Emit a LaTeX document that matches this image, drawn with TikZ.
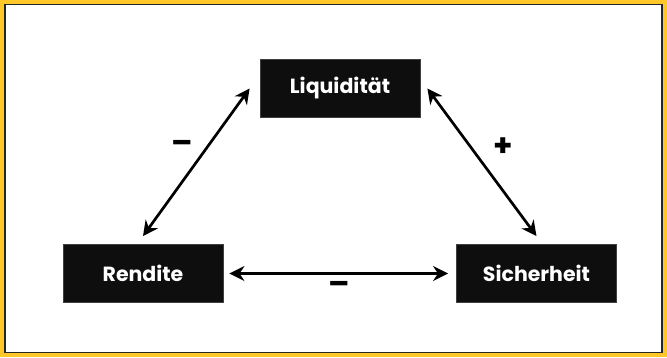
\documentclass[tikz,border=0pt]{standalone}
\usepackage{fontspec}
\setmainfont{Poppins}
\usetikzlibrary{arrows.meta, positioning}
\definecolor{frameyellow}{RGB}{255,200,40}
\definecolor{boxblack}{RGB}{14,14,14}
\begin{document}
\begin{tikzpicture}[x=1pt, y=-1pt,
		keybox/.style={shape=rectangle, fill=boxblack, draw=black!75, line width=0.8pt, minimum width=160pt, minimum height=58pt, text=white, font=\fontsize{20.5}{23}\selectfont\bfseries},
		rel/.style={line width=2.7pt, {Stealth[length=15pt, width=15pt]}-{Stealth[length=15pt, width=15pt]}},
		sign/.style={font=\fontsize{31}{33}\selectfont\bfseries, inner sep=0pt}]
			% Frame:
			\fill[frameyellow] (0,0) rectangle (667,357);
			\filldraw[fill=white, draw=black!85, line width=1.6pt] (5,4.5) rectangle (662,352.5);
			% Paths, nodes and wires:
			\node[keybox] (liq) at (340, 88.5){Liquidität};
			\node[keybox] (rendite) at (143, 273.5){Rendite};
			\node[keybox] (sicher) at (536.5, 273.5){Sicherheit};
			\draw[rel] ([yshift=8pt]rendite.north) -- ([xshift=-10pt]liq.west);
			\draw[rel] ([xshift=7pt]liq.east) -- ([yshift=8pt]sicher.north);
			\draw[rel] ([xshift=6pt]rendite.east) -- ([xshift=-8pt]sicher.west);
			\node[sign] (minusleft) at (182, 147){–};
			\node[sign] (plusright) at (503, 147){+};
			\node[sign] (minusbottom) at (339, 288){–};
		\end{tikzpicture}
\end{document}
